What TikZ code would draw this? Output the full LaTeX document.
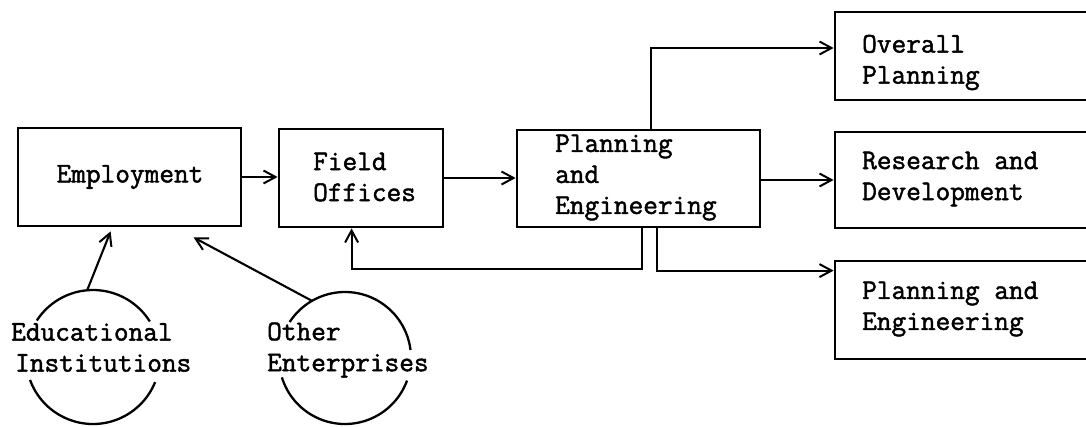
\documentclass[tikz,border=0pt]{standalone}
\usepackage{fontspec}
\newfontfamily\twfont[FakeBold=1.6]{Latin Modern Mono}
\usetikzlibrary{arrows.meta,calc}
\tikzset{
  box/.style={draw, line width=2.8pt, inner sep=0pt, rectangle},
  lbl/.style={font=\twfont\bfseries\fontsize{28.5}{31}\selectfont, align=left, inner sep=0pt, anchor=west},
  conn/.style={line width=2.1pt},
  arr/.style={conn, -{Straight Barb[length=12pt,width=13pt,line width=2pt]}},
  ring/.style={line width=2.3pt},
}
\begin{document}
\begin{tikzpicture}[x=1pt,y=-1pt]
\useasboundingbox (0,0) rectangle (1086,426);
\clip (0,0) rectangle (1086,426);
% boxes
\node[box, minimum width=223pt, minimum height=98pt] (emp) at (129.5,177) {};
\node[box, minimum width=164pt, minimum height=98pt] (fo) at (361,178) {};
\node[box, minimum width=243pt, minimum height=97pt] (pe) at (638.5,178.5) {};
\node[box, minimum width=270pt, minimum height=88pt] (ov) at (970,56) {};
\node[box, minimum width=270pt, minimum height=96pt] (rd) at (970,180) {};
\node[box, minimum width=270pt, minimum height=98pt] (pe2) at (970,310) {};
% texts
\node[lbl, anchor=center] (empt) at (130,177) {Employment};
\node[lbl] (fot) at (313,177) {Field\\Offices};
\node[lbl] (pet) at (555,177.5) {Planning\\and\\Engineering};
\node[lbl] (ovt) at (862,62.5) {Overall\\Planning};
\node[lbl] (rdt) at (862,179) {Research and\\Development};
\node[lbl] (pe2t) at (862,309) {Planning and\\Engineering};
\node[lbl] (edut) at (11,347.5) {Educational\\\hspace*{4pt}Institutions};
\node[lbl] (otht) at (267,350) {Other\\Enterprises};
% circles (partly hidden by text)
\coordinate (educ) at (93,357);
\coordinate (othc) at (345,358);
\draw[ring] ($(educ)+(147:67pt)$) arc[start angle=147, end angle=32, radius=67pt];
\draw[ring] ($(educ)+(200:67pt)$) arc[start angle=200, end angle=338, radius=67pt];
\draw[ring] ($(othc)+(147:66pt)$) arc[start angle=147, end angle=7, radius=66pt];
\draw[ring] ($(othc)+(197:66pt)$) arc[start angle=197, end angle=340, radius=66pt];
% connectors
\draw[arr] (emp.east) -- (emp.east -| fo.west);
\draw[arr] (fo.east) -- (fo.east -| pe.west);
\draw[arr] (pe.east |- rd.west) -- (rd.west);
\coordinate (upstart) at ($(pe.north west)+(135,0)$);
\coordinate (ovin) at ($(ov.west)+(0,-8)$);
\draw[arr] (upstart) |- (ovin);
\coordinate (dnstart) at ($(pe.south west)+(141,0)$);
\coordinate (pe2in) at ($(pe2.north west)+(0,11)$);
\draw[arr] (dnstart) |- (pe2in);
\coordinate (fbstart) at ($(pe.south west)+(126,0)$);
\coordinate (fbin) at ($(fo.south west)+(74,0)$);
\draw[arr] (fbstart) -- ++(0,41) -| (fbin);
\coordinate (eduin) at ($(emp.south west)+(94,4)$);
\coordinate (othin) at ($(emp.south west)+(177,10)$);
\draw[arr] ($(educ)+(95:67pt)$) -- (eduin);
\draw[arr] ($(othc)+(120:66pt)$) -- (othin);
\end{tikzpicture}
\end{document}
